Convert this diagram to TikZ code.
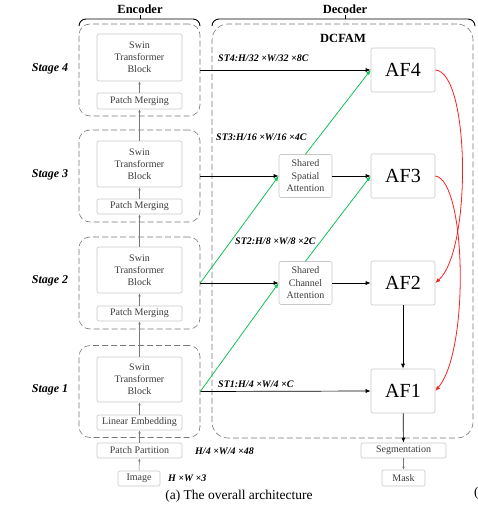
\documentclass[tikz,border=0pt]{standalone}
\usepackage{fontspec}
\setmainfont{Liberation Serif}
\usetikzlibrary{arrows.meta,positioning}
\definecolor{dcGreen}{RGB}{20,190,90}
\definecolor{dcRed}{RGB}{250,30,30}
\definecolor{dcBorder}{RGB}{200,200,200}
\definecolor{dcDash}{RGB}{120,120,120}
\definecolor{dcText}{RGB}{60,60,60}
\newcommand{\dcdim}[1]{\textbf{\textit{#1}}}

\begin{document}
\begin{tikzpicture}[x=1pt, y=1pt,
    blk/.style={rectangle, rounded corners=2pt, draw=dcBorder, fill=white,
                text=dcText, align=center, font=\fontsize{10}{12}\selectfont,
                minimum width=85pt, inner sep=1pt, line width=0.6pt},
    afbox/.style={rectangle, rounded corners=2pt, draw=dcBorder, fill=white,
                  minimum width=64pt, minimum height=44pt,
                  font=\fontsize{20}{22}\selectfont, line width=0.6pt},
    attn/.style={blk, minimum width=53pt, minimum height=43pt,
                 font=\fontsize{10}{12.5}\selectfont},
    stagebox/.style={rectangle, rounded corners=11pt, draw=dcDash, dashed,
                     dash pattern=on 6pt off 3pt, minimum width=121pt,
                     minimum height=92pt, line width=0.6pt, inner sep=0pt},
    stlab/.style={font=\fontsize{12}{14}\selectfont\bfseries\itshape},
    dimlab/.style={anchor=west, font=\fontsize{10}{12}\selectfont, inner sep=0pt},
    head/.style={font=\fontsize{12.5}{14}\selectfont\bfseries},
    up/.style={-{Latex[length=3pt,width=2.4pt]}, draw=dcDash, line width=0.5pt},
    feed/.style={-{Latex[length=5pt,width=4pt]}, line width=0.7pt},
    cross/.style={-{Latex[length=5pt,width=4pt]}, draw=dcGreen, line width=0.8pt},
    back/.style={-{Latex[length=5pt,width=4pt]}, draw=dcRed, line width=0.8pt}
  ]
  \useasboundingbox (0,0) rectangle (478,-505);

  % headers
  \node[head] (enc) at (140,-9) {Encoder};
  \node[head] (dec) at (345,-9) {Decoder};
  \draw[line width=0.9pt, rounded corners=7pt] (79,-25) -- (79,-19) -- (200,-19) -- (200,-25);
  \draw[line width=0.9pt] (140,-19) -- (140,-15);
  \draw[line width=0.9pt, rounded corners=7pt] (212,-25) -- (212,-19) -- (475,-19) -- (475,-25);
  \draw[line width=0.9pt] (345,-19) -- (345,-15);

  % encoder stages
  \node[stagebox] (st4) at (139.5,-70) {};
  \node[stagebox] (st3) at (139.5,-176) {};
  \node[stagebox] (st2) at (139.5,-283) {};
  \node[stagebox] (st1) at (139.5,-391.5) {};

  \node[blk, minimum height=47pt] (sw4) at (139.5,-57.5) {Swin\\Transformer\\Block};
  \node[blk, minimum height=16pt] (pm4) at (139.5,-101) {Patch Merging};
  \node[blk, minimum height=46pt] (sw3) at (139.5,-164) {Swin\\Transformer\\Block};
  \node[blk, minimum height=15pt] (pm3) at (139.5,-206.5) {Patch Merging};
  \node[blk, minimum height=46pt] (sw2) at (139.5,-270) {Swin\\Transformer\\Block};
  \node[blk, minimum height=15pt] (pm2) at (139.5,-313.5) {Patch Merging};
  \node[blk, minimum height=45pt] (sw1) at (139.5,-379.5) {Swin\\Transformer\\Block};
  \node[blk, minimum height=15pt] (le) at (139.5,-422.5) {Linear Embedding};
  \node[blk, minimum height=15pt] (pp) at (139.5,-450.5) {Patch Partition};
  \node[blk, minimum height=15pt, minimum width=42pt] (img) at (139,-478.5) {Image};

  \node[stlab] (lab4) at (50,-69) {Stage 4};
  \node[stlab] (lab3) at (50,-175) {Stage 3};
  \node[stlab] (lab2) at (50,-281) {Stage 2};
  \node[stlab] (lab1) at (50,-390) {Stage 1};

  \draw[up] (img) -- (pp);
  \draw[up] (pp) -- (le);
  \draw[up] (le) -- (sw1);
  \draw[up] (sw1) -- (pm2);
  \draw[up] (pm2) -- (sw2);
  \draw[up] (sw2) -- (pm3);
  \draw[up] (pm3) -- (sw3);
  \draw[up] (sw3) -- (pm4);
  \draw[up] (pm4) -- (sw4);

  \node[dimlab] (inDim) at (168,-478) {\dcdim{H ×W ×3}};
  \node[dimlab] (ppDim) at (195,-451) {\dcdim{H/4 ×W/4 ×48}};

  % decoder
  \node[stagebox, minimum width=261pt, minimum height=414pt, rounded corners=16pt] (dcfam) at (342.5,-231) {};
  \node[head] (dcfamlab) at (343,-38) {DCFAM};

  \node[afbox] (af4) at (403,-70) {AF4};
  \node[afbox] (af3) at (403,-176) {AF3};
  \node[afbox] (af2) at (403,-283) {AF2};
  \node[afbox] (af1) at (403,-391) {AF1};

  \node[attn] (ssa) at (305.5,-176) {Shared\\Spatial\\Attention};
  \node[attn] (sca) at (305.5,-283) {Shared\\Channel\\Attention};

  \node[blk, minimum width=85pt, minimum height=15pt] (seg) at (403.5,-450.5) {Segmentation};
  \node[blk, minimum width=43pt, minimum height=16pt] (mask) at (403.5,-478) {Mask};

  \node[dimlab] (d4) at (218,-58) {\dcdim{ST4:H/32 ×W/32 ×8C}};
  \node[dimlab] (d3) at (216,-137) {\dcdim{ST3:H/16 ×W/16 ×4C}};
  \node[dimlab] (d2) at (235,-241) {\dcdim{ST2:H/8 ×W/8 ×2C}};
  \node[dimlab] (d1) at (218,-384) {\dcdim{ST1:H/4 ×W/4 ×C}};

  \draw[feed] (st4.east) -- (af4.west);
  \draw[feed] (st3.east) -- (ssa.west);
  \draw[feed] (ssa) -- (af3);
  \draw[feed] (st2.east) -- (sca.west);
  \draw[feed] (sca) -- (af2);
  \draw[feed] (st1.east) -- (af1.west);

  \draw[cross] (st2.east) -- (ssa.west);
  \draw[cross] (ssa.north) -- (af4.west);
  \draw[cross] (st1.east) -- (sca.west);
  \draw[cross] (sca.north) -- (af3.west);

  \draw[back] (af4.east) .. controls (470,-72) and (472,-250) .. (af2.east);
  \draw[back] (af3.east) .. controls (466,-180) and (470,-350) .. (af1.east);

  \draw[feed] (af2) -- (af1);
  \draw[feed] (af1) -- (seg);
  \draw[up] (seg) -- (mask);

  % caption
  \node[font=\fontsize{13.5}{16}\selectfont] (cap) at (239,-496) {(a) The overall architecture};
  \node[font=\fontsize{13.5}{16}\selectfont, anchor=west, inner sep=0pt] (capb) at (474,-493) {(};
\end{tikzpicture}
\end{document}
